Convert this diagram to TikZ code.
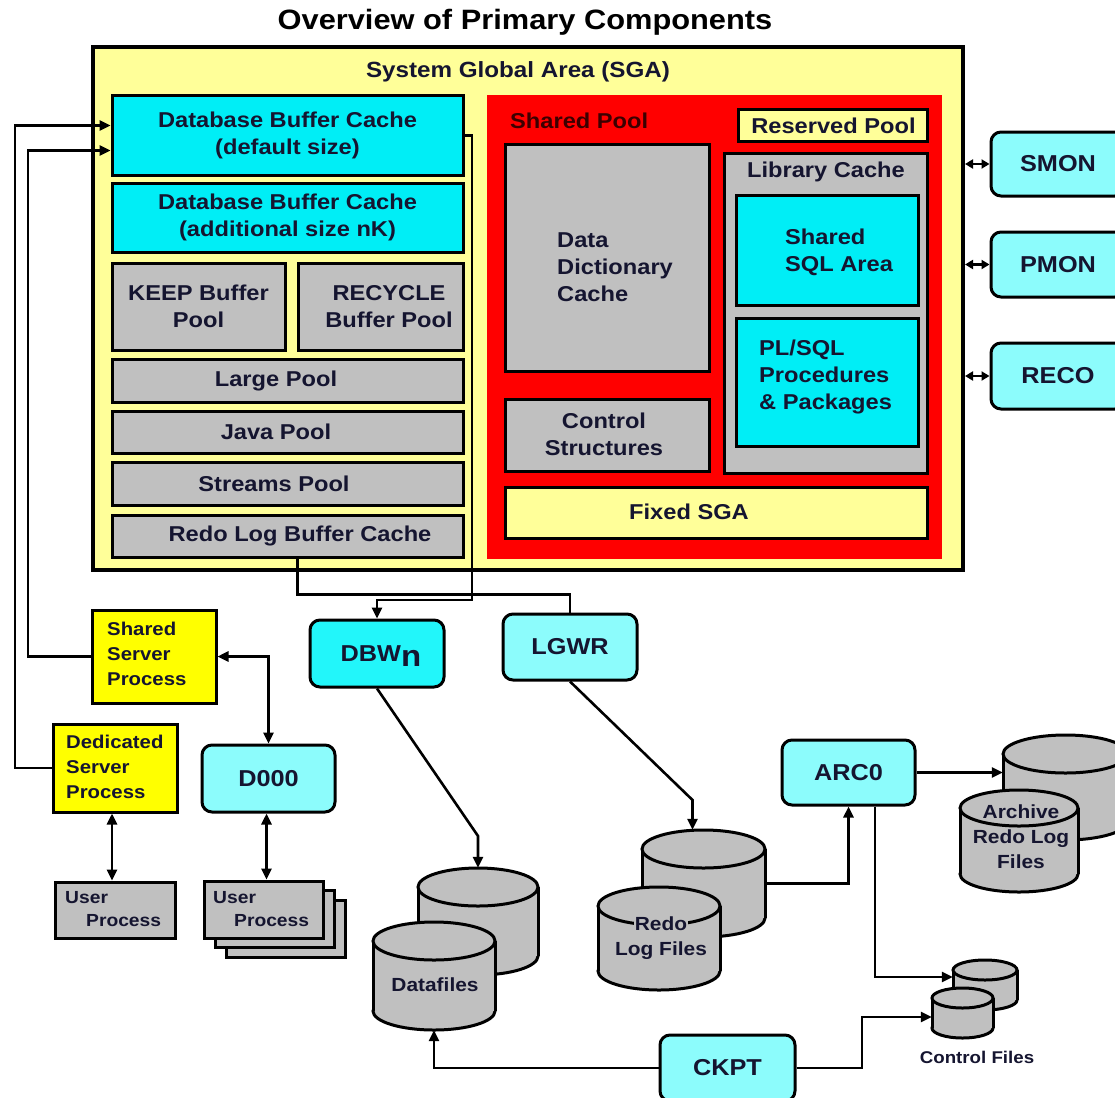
\documentclass[tikz,border=0pt]{standalone}
\usepackage{fontspec}
\setmainfont{Liberation Sans}[FakeStretch=1.1]
\usetikzlibrary{arrows.meta,calc}
\definecolor{sgayel}{HTML}{FFFF99}
\definecolor{cyanA}{HTML}{00EEF6}
\definecolor{cyanB}{HTML}{22F6FA}
\definecolor{cyanP}{HTML}{8CFCFC}
\definecolor{cgray}{HTML}{C0C0C0}
\definecolor{cred}{HTML}{FF0000}
\definecolor{cyel}{HTML}{FFFF00}
\definecolor{txt}{HTML}{151530}
\newcommand{\fsz}[2]{\fontsize{#1}{#2}\selectfont}
\setlength{\fboxsep}{1pt}
\tikzset{
  bx/.style={draw=black, line width=3pt, align=center, text=txt, inner sep=2pt},
  rbx/.style={bx, rounded corners=10pt},
  lbl/.style={text=txt, align=center, inner sep=1pt},
  con/.style={line width=2.6pt, draw=black},
  arr/.style={con, -{Triangle[length=11pt,width=10pt]}},
  darr/.style={con, {Triangle[length=11pt,width=10pt]}-{Triangle[length=11pt,width=10pt]}},
  sarr/.style={con, {Triangle[length=8pt,width=9pt]}-{Triangle[length=8pt,width=9pt]}},
  cylst/.style={draw=black, line width=3pt, fill=cgray},
  cylfill/.style={fill=cgray},
}
% name, left, top, width, height, ry
\newcommand{\cylin}[6]{%
  \pgfmathsetmacro\cylcx{#2+#4/2}%
  \pgfmathsetmacro\cylrx{#4/2}%
  \pgfmathsetmacro\cylyt{#3+#6}%
  \pgfmathsetmacro\cylyb{#3+#5-#6}%
  \pgfmathsetmacro\cylcy{#3+#5/2}%
  \filldraw[cylst] (\cylcx,\cylyb) ellipse[x radius=\cylrx, y radius=#6];
  \fill[cylfill] (#2,\cylyt) rectangle (#2+#4,\cylyb);
  \draw[cylst] (#2,\cylyt) -- (#2,\cylyb) (#2+#4,\cylyt) -- (#2+#4,\cylyb);
  \filldraw[cylst] (\cylcx,\cylyt) ellipse[x radius=\cylrx, y radius=#6];
  \node[inner sep=0pt, minimum width=#4pt, minimum height=#5pt] (#1) at (\cylcx,\cylcy) {};
}
\begin{document}
\begin{tikzpicture}[x=1pt,y=-1pt, font=\bfseries\fsz{21.5}{27}]
\useasboundingbox (0,0) rectangle (1115,1097);
\fill[white] (0,0) rectangle (1115,1097);

\node[lbl, text=black, font=\bfseries\fsz{28}{32}] (title) at (525,22) {Overview of Primary Components};

% SGA
\node[bx, fill=sgayel, line width=4pt, minimum width=870pt, minimum height=523pt] (sga) at (528,308.5) {};
\node[lbl, font=\bfseries\fsz{22}{27}] (sgal) at (518,72) {System Global Area (SGA)};

\node[bx, fill=cyanA, minimum width=351pt, minimum height=79pt] (dbc) at (287.5,135.5) {Database Buffer Cache\\(default size)};
\node[bx, fill=cyanA, minimum width=351pt, minimum height=69pt] (dbc2) at (287.5,217.5) {Database Buffer Cache\\(additional size nK)};
\node[bx, fill=cgray, minimum width=173pt, minimum height=87pt] (keep) at (198.5,306.5) {KEEP Buffer\\Pool};
\node[bx, fill=cgray, minimum width=165pt, minimum height=87pt] (recyc) at (380.5,306.5) {};
\node[lbl] (recycl) at (389,307) {RECYCLE\\Buffer Pool};
\node[bx, fill=cgray, minimum width=351pt, minimum height=43pt] (large) at (287.5,380.5) {};
\node[lbl] (largel) at (276,380.5) {Large Pool};
\node[bx, fill=cgray, minimum width=351pt, minimum height=42pt] (java) at (287.5,432) {};
\node[lbl] (javal) at (276,432) {Java Pool};
\node[bx, fill=cgray, minimum width=351pt, minimum height=43pt] (streams) at (287.5,483.5) {};
\node[lbl] (streamsl) at (274,483.5) {Streams Pool};
\node[bx, fill=cgray, minimum width=351pt, minimum height=42pt] (redo) at (287.5,536) {};
\node[lbl] (redol) at (300,536) {Redo Log Buffer Cache};

% Shared pool
\node[fill=cred, draw=cred, minimum width=454pt, minimum height=463pt] (shp) at (714,326.5) {};
\node[lbl, text={rgb,255:red,60;green,0;blue,0}, anchor=west] (shpl) at (509,121) {Shared Pool};
\node[bx, fill=sgayel, minimum width=189pt, minimum height=31pt] (resv) at (832.5,125.5) {};
\node[lbl] (resvl) at (833.5,126) {Reserved Pool};
\node[bx, fill=cgray, minimum width=204pt, minimum height=227pt] (ddc) at (607,257.5) {};
\node[lbl, align=left, anchor=west] (ddcl) at (556,267) {Data\\Dictionary\\Cache};
\node[bx, fill=cgray, minimum width=204pt, minimum height=72pt] (ctrl) at (607,435) {};
\node[lbl] (ctrll) at (604,434.5) {Control\\Structures};
\node[bx, fill=cgray, minimum width=203pt, minimum height=320pt] (lib) at (825.5,313) {};
\node[lbl] (libl) at (826,172) {Library Cache};
\node[bx, fill=cyanA, minimum width=182pt, minimum height=110pt] (ssql) at (827,250) {};
\node[lbl, align=left, anchor=west] (ssqll) at (784,252) {Shared\\SQL Area};
\node[bx, fill=cyanA, minimum width=182pt, minimum height=128pt] (plsql) at (827,382) {};
\node[lbl, align=left, anchor=west] (plsqll) at (758,377) {PL/SQL\\Procedures\\\& Packages};
\node[bx, fill=sgayel, minimum width=422pt, minimum height=51pt] (fixed) at (716,512.5) {};
\node[lbl] (fixedl) at (689,512) {Fixed SGA};

% background processes
\begin{scope}[font=\bfseries\fsz{23}{27}]
\node[rbx, fill=cyanP, minimum width=134pt, minimum height=64pt] (smon) at (1058,164) {SMON};
\node[rbx, fill=cyanP, minimum width=134pt, minimum height=65pt] (pmon) at (1058,264.5) {PMON};
\node[rbx, fill=cyanP, minimum width=134pt, minimum height=66pt] (reco) at (1058,376) {RECO};
\node[rbx, fill=cyanP, minimum width=133pt, minimum height=67pt] (d000) at (268.5,778.5) {D000};
\node[rbx, fill=cyanB, minimum width=134pt, minimum height=67pt] (dbwn) at (377,653.5) {};
\node[lbl] (dbwnl) at (381,656) {DBW\raisebox{-5pt}{\fsz{30}{30}n}};
\node[rbx, fill=cyanP, minimum width=134pt, minimum height=66pt] (lgwr) at (570,647) {LGWR};
\node[rbx, fill=cyanP, minimum width=133pt, minimum height=65pt] (arc) at (848.5,772.5) {ARC0};
\node[rbx, fill=cyanP, minimum width=135pt, minimum height=66pt] (ckpt) at (727.5,1068) {CKPT};
\end{scope}

% server processes
\begin{scope}[font=\bfseries\fsz{18.5}{25}]
\node[bx, fill=cyel, minimum width=124pt, minimum height=93pt] (ssp) at (154,656.5) {};
\node[lbl, align=left, anchor=west] (sspl) at (106,654) {Shared\\Server\\Process};
\node[bx, fill=cyel, minimum width=124pt, minimum height=88pt] (ded) at (115,768) {};
\node[lbl, align=left, anchor=west] (dedl) at (65,767) {Dedicated\\Server\\Process};
\end{scope}

% user processes
\begin{scope}[font=\bfseries\fsz{17.5}{23}]
\node[bx, fill=cgray, minimum width=120pt, minimum height=56pt] (up1) at (115,910) {};
\node[lbl, align=left, anchor=west] (up1l) at (64,909.5) {User\\\hspace*{21pt}Process};
\node[bx, fill=cgray, minimum width=119pt, minimum height=57pt] (up2c) at (285.5,928.5) {};
\node[bx, fill=cgray, minimum width=119pt, minimum height=57pt] (up2b) at (274.5,919) {};
\node[bx, fill=cgray, minimum width=119pt, minimum height=57pt] (up2) at (263.5,909.5) {};
\node[lbl, align=left, anchor=west] (up2l) at (212,909.5) {User\\\hspace*{21pt}Process};
\end{scope}

% cylinders
\cylin{df2}{418}{868}{120}{107}{19}
\cylin{df1}{373}{922}{122}{108}{19}
\cylin{rl2}{642}{830}{123}{107}{19}
\cylin{rl1}{598}{887}{122}{103}{19}
\cylin{arch2}{1003}{735}{125}{105}{19}
\cylin{arch1}{960}{790}{118}{102}{18}
\cylin{cf2}{953}{960}{64}{50}{10}
\cylin{cf1}{932}{988}{61}{50}{10}

\begin{scope}[font=\bfseries\fsz{19}{25}]
\node[lbl] (dfl) at (435,985) {Datafiles};
\node[lbl] (rll) at (661,938) {\colorbox{cgray}{Redo}\\Log Files};
\node[lbl] (archl) at (1021,836) {\colorbox{cgray}{Archive}\\Redo Log\\Files};
\end{scope}
\node[lbl, font=\bfseries\fsz{17}{20}] (cfl) at (977,1057) {Control Files};

% connectors
\draw[arr] (ded.west) -- (15,768) |- ($(dbc.west)+(0,-10)$);
\draw[arr] (ssp.west) -- (28,656.5) |- ($(dbc.west)+(0,15)$);
\draw[darr] (ssp.east) -| (d000.north);
\draw[darr] ($(ded.south)+(-3,0)$) -- ($(ded.south |- up1.north)+(-3,0)$);
\draw[darr] ($(d000.south)+(-2,0)$) -- ($(d000.south |- up2.north)+(-2,0)$);
\draw[arr] (dbc.east) -- (472,135.5) -- (472,600) -| (dbwn.north);
\draw[con] ($(redo.south)+(10,0)$) -- ++(0,36) -| (lgwr.north);
\draw[arr] (dbwn.south) -- (478,836) -- (df2.north);
\draw[arr] (lgwr.south) -- (692.5,800) -- ($(rl2.north)+(-11,0)$);
\draw[arr] (rl2.east) -| (arc.south);
\draw[arr] (arc.east) -- (arc.east -| arch2.west);
\draw[arr] ($(arc.south)+(26.5,0)$) |- ($(cf2.west)+(0,-8)$);
\draw[arr] (ckpt.west) -| (df1.south);
\draw[arr] (ckpt.east) -- (862,1068) |- ($(cf1.west)+(0,4)$);
\draw[sarr] (sga.east |- smon.west) -- (smon.west);
\draw[sarr] (sga.east |- pmon.west) -- (pmon.west);
\draw[sarr] (sga.east |- reco.west) -- (reco.west);
\end{tikzpicture}
\end{document}
